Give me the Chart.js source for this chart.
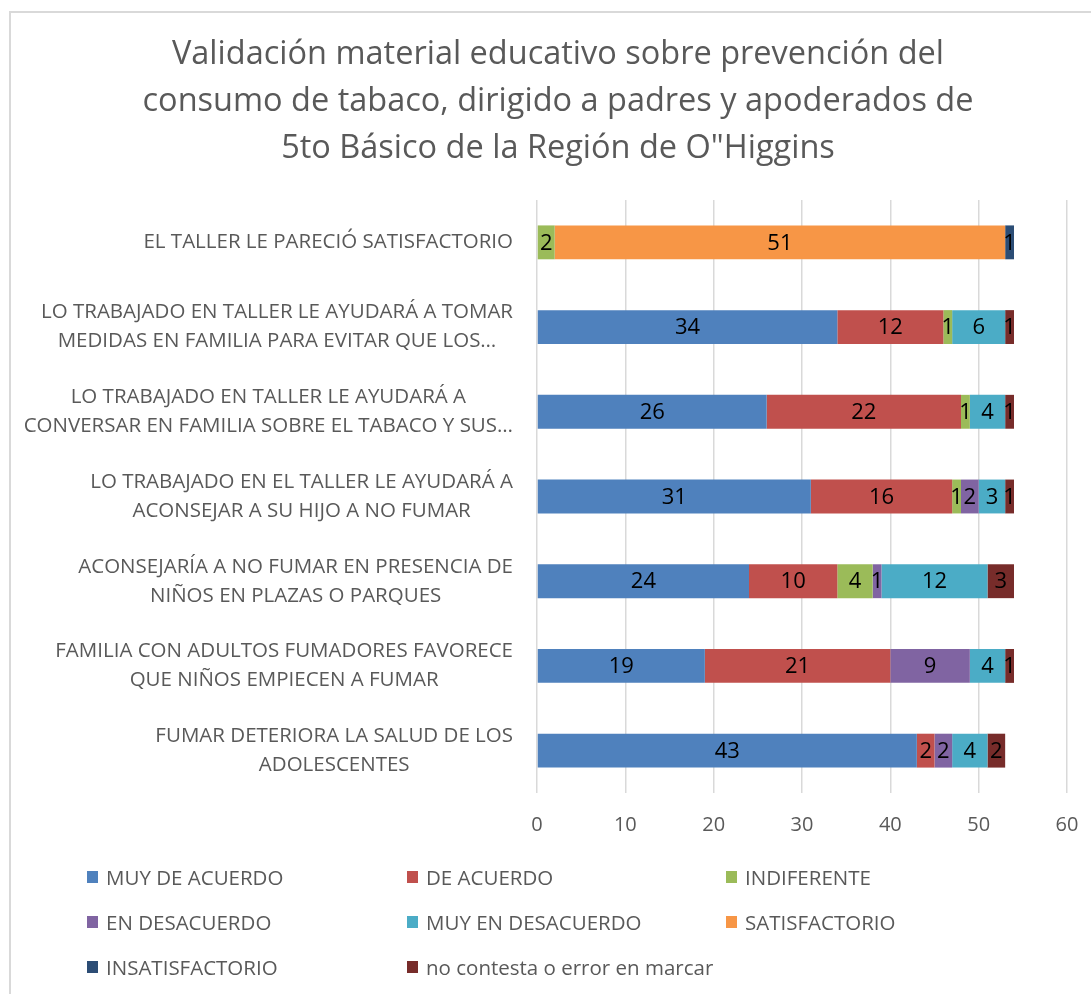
<!DOCTYPE html>
<html>
<head>
<meta charset="utf-8">
<script src="https://cdn.jsdelivr.net/npm/chart.js@4.4.1/dist/chart.umd.min.js"></script>
<style>
  html, body { margin: 0; padding: 0; background: #fff; overflow: hidden; }
  #wrap { position: relative; width: 1091px; height: 994px; overflow: hidden; }
  #frame { position: absolute; left: 9px; top: 11px; width: 1200px; height: 1100px;
           border-left: 2px solid #d9d9d9; border-top: 2px solid #d9d9d9; }
  canvas { position: absolute; left: 0; top: 0; }
  #legend { position: absolute; left: 0; top: 0; font-family: 'Open Sans', sans-serif;
            font-size: 20.5px; color: #595959; }
  .item { position: absolute; height: 26px; display: flex; align-items: center; white-space: nowrap; }
  .box { display: inline-block; width: 11px; height: 12px; margin-right: 8px; }
</style>
</head>
<body>
<div id="wrap">
  <div id="frame"></div>
  <canvas id="chart" width="1091" height="994"></canvas>
  <div id="legend"></div>
</div>
<script>
const titleLines = [
  'Validación material educativo sobre prevención del',
  'consumo de tabaco, dirigido a padres y apoderados de',
  '5to Básico de la Región de O"Higgins'
];

const categories = [
  ['EL TALLER LE PARECIÓ SATISFACTORIO'],
  ['LO TRABAJADO EN TALLER LE AYUDARÁ A TOMAR', 'MEDIDAS EN FAMILIA PARA EVITAR QUE LOS…'],
  ['LO TRABAJADO EN TALLER LE AYUDARÁ A', 'CONVERSAR EN FAMILIA SOBRE EL TABACO Y SUS…'],
  ['LO TRABAJADO EN EL TALLER LE AYUDARÁ A', 'ACONSEJAR A SU HIJO A NO FUMAR'],
  ['ACONSEJARÍA A NO FUMAR EN PRESENCIA DE', 'NIÑOS EN PLAZAS O PARQUES'],
  ['FAMILIA CON ADULTOS FUMADORES FAVORECE', 'QUE NIÑOS EMPIECEN A FUMAR'],
  ['FUMAR DETERIORA LA SALUD DE LOS', 'ADOLESCENTES']
];

// one value per category, top to bottom (null = no segment)
const muyDeAcuerdo    = [null, 34, 26, 31, 24, 19, 43];
const deAcuerdo       = [null, 12, 22, 16, 10, 21, 2];
const indiferente     = [2, 1, 1, 1, 4, null, null];
const enDesacuerdo    = [null, null, null, 2, 1, 9, 2];
const muyEnDesacuerdo = [null, 6, 4, 3, 12, 4, 4];
const satisfactorio   = [51, null, null, null, null, null, null];
const insatisfactorio = [1, null, null, null, null, null, null];
const noContesta      = [null, 1, 1, 1, 3, 1, 2];

const xTicks = [0, 10, 20, 30, 40, 50, 60];

const seriesNames = ['MUY DE ACUERDO', 'DE ACUERDO', 'INDIFERENTE', 'EN DESACUERDO',
  'MUY EN DESACUERDO', 'SATISFACTORIO', 'INSATISFACTORIO', 'no contesta o error en marcar'];
const seriesData = [muyDeAcuerdo, deAcuerdo, indiferente, enDesacuerdo,
  muyEnDesacuerdo, satisfactorio, insatisfactorio, noContesta];
const seriesColors = ['#4f81bd', '#c0504d', '#9bbb59', '#8064a2',
  '#4bacc6', '#f79646', '#2c4d75', '#772c2a'];

const FONT = "'Open Sans', sans-serif";
const TEXT = '#595959';

// category labels: lines centred inside a block that sits right against the plot
const categoryLabels = {
  id: 'categoryLabels',
  afterDraw: (chart) => {
    const ctx = chart.ctx;
    const y = chart.scales.y;
    const right = chart.chartArea.left - 24;
    ctx.save();
    ctx.font = '20.5px ' + FONT;
    ctx.fillStyle = TEXT;
    ctx.textAlign = 'center';
    ctx.textBaseline = 'middle';
    categories.forEach((lines, i) => {
      const w = Math.max(...lines.map(l => ctx.measureText(l).width));
      const cx = right - w / 2;
      const cy = y.getPixelForValue(i);
      const lh = 29;
      lines.forEach((l, k) => {
        ctx.fillText(l, cx, cy - (lines.length - 1) * lh / 2 + k * lh);
      });
    });
    ctx.restore();
  }
};

// value labels in the middle of each segment
const valueLabels = {
  id: 'valueLabels',
  afterDatasetsDraw: (chart) => {
    const ctx = chart.ctx;
    ctx.save();
    ctx.font = '22px ' + FONT;
    ctx.fillStyle = '#000';
    ctx.textAlign = 'center';
    ctx.textBaseline = 'middle';
    chart.data.datasets.forEach((ds, di) => {
      const meta = chart.getDatasetMeta(di);
      meta.data.forEach((bar, i) => {
        const v = ds.data[i];
        if (v === null || v === 0) return;
        const p = bar.getCenterPoint();
        ctx.fillText(String(v), p.x, p.y + 1);
      });
    });
    ctx.restore();
  }
};

const chart = new Chart(document.getElementById('chart'), {
  type: 'bar',
  data: {
    labels: categories.map(c => c.join(' ')),
    datasets: seriesNames.map((name, i) => ({
      label: name,
      data: seriesData[i],
      backgroundColor: seriesColors[i],
      borderWidth: 0,
      categoryPercentage: 0.5,
      barPercentage: 0.8
    }))
  },
  options: {
    indexAxis: 'y',
    responsive: false,
    animation: false,
    layout: { padding: { left: 49, right: 24, top: 0, bottom: 137 } },
    plugins: {
      legend: { display: false },
      tooltip: { enabled: false },
      title: {
        display: true,
        text: titleLines,
        color: TEXT,
        font: { family: FONT, size: 32.5, weight: 'normal', lineHeight: 47 / 32.5 },
        padding: { top: 31, bottom: 28 }
      }
    },
    scales: {
      x: {
        stacked: true,
        min: 0,
        max: 60,
        afterBuildTicks: (scale) => { scale.ticks = xTicks.map(v => ({ value: v })); },
        afterFit: (scale) => { scale.paddingLeft = 0; scale.paddingRight = 0; },
        ticks: { color: TEXT, font: { family: FONT, size: 20 }, padding: 20 },
        grid: { color: '#d9d9d9', lineWidth: 1.5, drawTicks: false },
        border: { display: false }
      },
      y: {
        stacked: true,
        ticks: { display: false },
        grid: { display: false, drawTicks: false },
        border: { display: false },
        afterFit: (scale) => { scale.width = 488; }
      }
    }
  },
  plugins: [categoryLabels, valueLabels]
});

// legend, three columns
const legendCols = [87, 407, 726];
const legendRows = [877, 922, 967];
const legend = document.getElementById('legend');
seriesNames.forEach((name, i) => {
  const item = document.createElement('div');
  item.className = 'item';
  item.style.left = legendCols[i % 3] + 'px';
  item.style.top = (legendRows[Math.floor(i / 3)] - 13) + 'px';
  const box = document.createElement('span');
  box.className = 'box';
  box.style.background = seriesColors[i];
  item.appendChild(box);
  item.appendChild(document.createTextNode(name));
  legend.appendChild(item);
});
</script>
</body>
</html>
